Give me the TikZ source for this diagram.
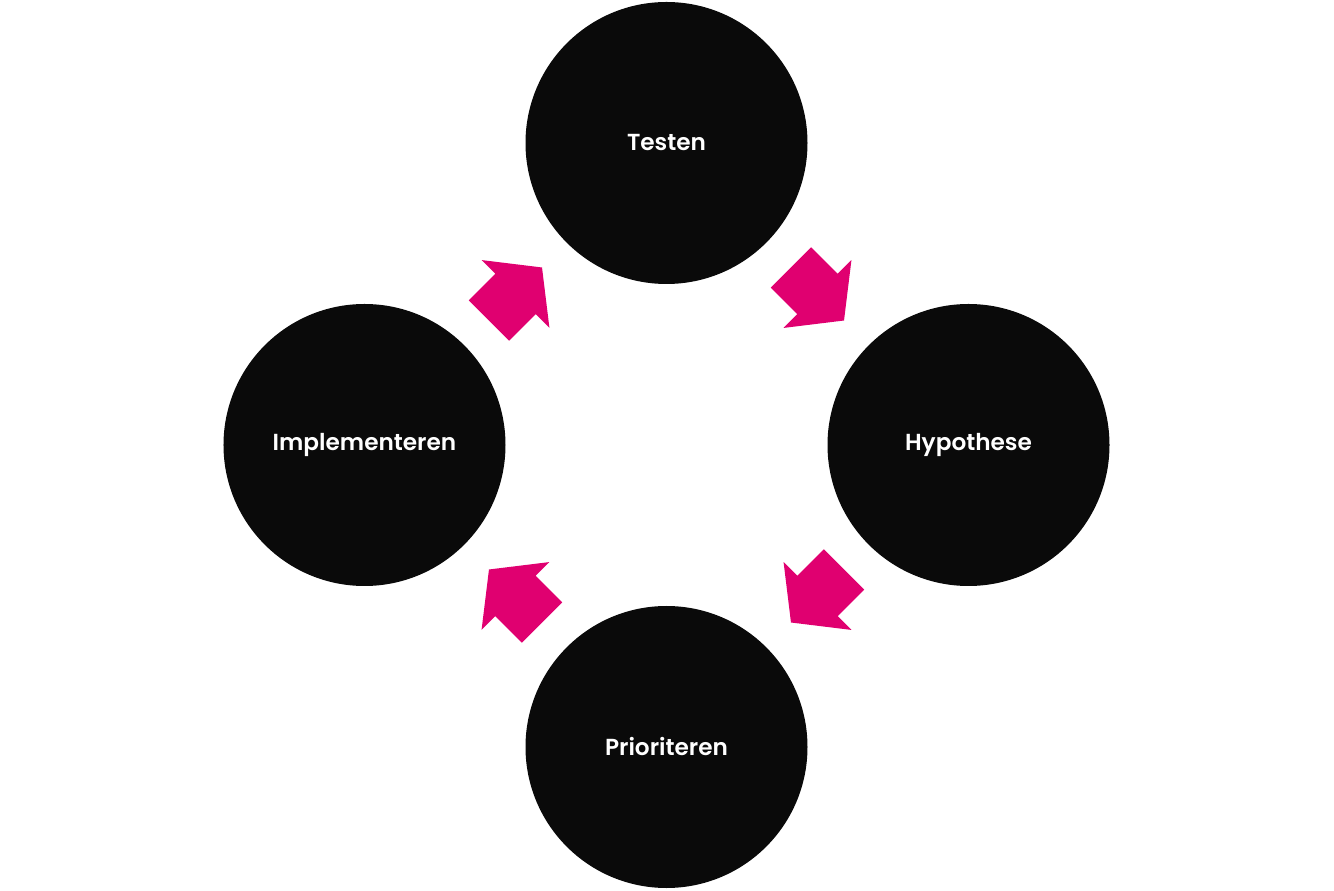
\documentclass[tikz,border=0pt]{standalone}
\usepackage{fontspec}
\setmainfont{Poppins}[BoldFont={Poppins SemiBold}]
\usepackage{tikz}
\usetikzlibrary{calc}
\definecolor{phaseblack}{RGB}{10,10,10}
\definecolor{cyclepink}{RGB}{224,0,112}
\tikzset{
  phase/.style = {circle, fill=phaseblack, text=white, inner sep=0pt,
                  minimum size=5.64cm,
                  font=\fontsize{13.2}{16}\selectfont\bfseries},
  cyclearrow/.pic = {
    \fill[cyclepink] (-0.75,0.57) -- (0,0.57) -- (0,0.96) -- (0.75,0)
      -- (0,-0.96) -- (0,-0.57) -- (-0.75,-0.57) -- cycle;
  },
}
\begin{document}
\begin{tikzpicture}
  \useasboundingbox (-13.33,-8.92) rectangle (13.35,8.9);
  % the four phases
  \node[phase] (testen)  at (0,6.04)  {Testen};
  \node[phase] (hypo)    at (6.04,0)  {Hypothese};
  \node[phase] (prio)    at (0,-6.04) {Prioriteren};
  \node[phase] (impl)    at (-6.04,0) {Implementeren};
  % arrows between the phases
  \foreach \a/\b/\r in {testen/hypo/-45, hypo/prio/-135,
                        prio/impl/135, impl/testen/45}
    \pic[rotate=\r] at ($(\a)!0.5!(\b)$) {cyclearrow};
\end{tikzpicture}
\end{document}
